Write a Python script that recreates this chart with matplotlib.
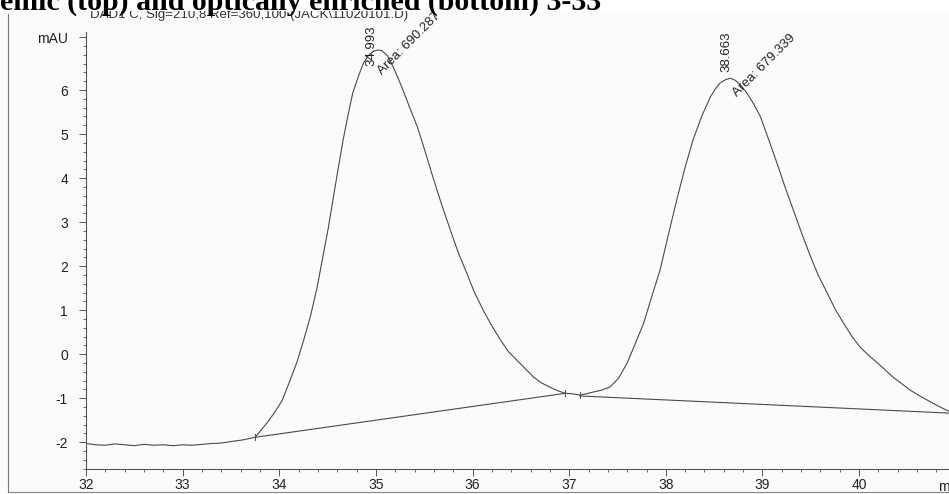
import matplotlib
matplotlib.use("Agg")
import matplotlib.pyplot as plt
from matplotlib.lines import Line2D
from matplotlib.patches import Rectangle
from matplotlib.ticker import MultipleLocator

# signal (min, mAU)
t = [32.00, 32.10, 32.20, 32.30, 32.40, 32.50, 32.60, 32.70, 32.80, 32.90,
     33.00, 33.10, 33.20, 33.30, 33.40, 33.52, 33.62, 33.75, 33.87, 33.95,
     34.03, 34.10, 34.18, 34.25, 34.32, 34.39, 34.45, 34.51, 34.56, 34.61,
     34.66, 34.71, 34.76, 34.82, 34.87, 34.92, 34.97, 35.02, 35.06, 35.12,
     35.18, 35.23, 35.28, 35.35, 35.43, 35.51, 35.59, 35.68, 35.77, 35.85,
     35.94, 36.02, 36.11, 36.20, 36.29, 36.37, 36.46, 36.55, 36.63, 36.71,
     36.80, 36.88, 36.96, 37.03, 37.11, 37.18, 37.25, 37.33, 37.42, 37.51,
     37.60, 37.68, 37.77, 37.85, 37.94, 38.03, 38.12, 38.20, 38.28, 38.37,
     38.46, 38.51, 38.56, 38.62, 38.67, 38.72, 38.78, 38.84, 38.91, 38.98,
     39.06, 39.15, 39.23, 39.32, 39.41, 39.50, 39.58, 39.67, 39.75, 39.84,
     39.92, 40.01, 40.10, 40.19, 40.27, 40.35, 40.44, 40.53, 40.62, 40.71,
     40.80, 40.93]
sig = [-2.03, -2.06, -2.07, -2.04, -2.06, -2.08, -2.05, -2.07, -2.06, -2.08,
       -2.06, -2.07, -2.05, -2.03, -2.02, -1.98, -1.95, -1.89, -1.57, -1.33,
       -1.05, -0.66, -0.20, 0.30, 0.84, 1.50, 2.20, 2.90, 3.57, 4.22,
       4.86, 5.42, 5.93, 6.32, 6.61, 6.78, 6.88, 6.91, 6.90, 6.78,
       6.52, 6.27, 6.00, 5.60, 5.16, 4.60, 4.02, 3.40, 2.82, 2.32,
       1.84, 1.40, 1.00, 0.64, 0.32, 0.06, -0.14, -0.34, -0.52, -0.65,
       -0.75, -0.83, -0.89, -0.90, -0.93, -0.90, -0.86, -0.82, -0.75, -0.55,
       -0.20, 0.22, 0.70, 1.28, 1.91, 2.75, 3.57, 4.25, 4.86, 5.40,
       5.84, 6.02, 6.16, 6.24, 6.27, 6.22, 6.10, 5.93, 5.68, 5.39,
       4.90, 4.34, 3.82, 3.27, 2.72, 2.20, 1.78, 1.39, 1.03, 0.70,
       0.42, 0.16, -0.03, -0.20, -0.36, -0.52, -0.67, -0.82, -0.94, -1.05,
       -1.16, -1.30]

# integration baselines
base1_t = [33.75, 36.96]
base1_y = [-1.89, -0.89]
base2_t = [37.11, 40.93]
base2_y = [-0.95, -1.34]

peak_rt = [34.993, 38.663]
peak_area = ["690.287", "679.339"]

ink = "#4a4a4a"
txt = "#222222"

fig = plt.figure(figsize=(9.49, 4.94), dpi=100)
fig.patch.set_facecolor("#fbfbfc")
ax = fig.add_axes([86 / 949, 25 / 494, 1 - 86 / 949, 437 / 494])
ax.set_facecolor("none")

ax.plot(t, sig, color=ink, lw=0.8)
ax.plot(base1_t, base1_y, color=ink, lw=0.8)
ax.plot(base2_t, base2_y, color=ink, lw=0.8)
# small peak-start/stop markers
for xx, yy in [(33.75, -1.89), (36.96, -0.89), (37.11, -0.93)]:
    ax.plot([xx, xx], [yy - 0.07, yy + 0.07], color=ink, lw=0.7)

# retention time labels sit just into the peak top, area labels at 45 deg
rt_label_y = [6.55, 6.4]
area_xy = [(35.08, 6.3), (38.76, 5.8)]
for rt, ly, (ax_, ay), area in zip(peak_rt, rt_label_y, area_xy, peak_area):
    ax.text(rt - 0.04, ly, "%.3f" % rt, rotation=90, ha="center", va="bottom",
            fontsize=9.5, family="Liberation Sans", color=txt)
    ax.text(ax_, ay, "Area: " + area, rotation=45, ha="left", va="bottom",
            fontsize=9.5, family="Liberation Sans", color=txt,
            rotation_mode="anchor")

ax.set_xlim(32, 40.93)
ax.set_ylim(-2.61, 7.32)
ax.spines["top"].set_visible(False)
ax.spines["right"].set_visible(False)
for s in ["left", "bottom"]:
    ax.spines[s].set_color("#555555")
    ax.spines[s].set_linewidth(0.8)

ax.set_xticks(range(32, 41))
ax.xaxis.set_minor_locator(MultipleLocator(0.2))
yt = list(range(-2, 7)) + [7.2]
ax.set_yticks(yt)
ax.set_yticklabels([str(v) for v in range(-2, 7)] + ["mAU"])
ax.yaxis.set_minor_locator(MultipleLocator(0.2))
ax.tick_params(which="major", length=5, width=0.7, color="#555555",
               labelsize=10, labelcolor=txt)
ax.tick_params(axis="y", which="major", pad=8)
ax.tick_params(axis="x", which="major", pad=1.5)
ax.tick_params(which="minor", length=2.5, width=0.6, color="#555555")
for lab in ax.get_xticklabels() + ax.get_yticklabels():
    lab.set_family("Liberation Sans")

fig.text(938 / 949, 1 - 487 / 494, "min", ha="left", va="center",
         fontsize=10, family="Liberation Sans", color=txt)

# scan frame lines
fig.add_artist(Line2D([8 / 949, 8 / 949], [0.005, 1 - 14 / 494],
                      transform=fig.transFigure, color="#777777", lw=0.8))
fig.add_artist(Line2D([8 / 949, 1], [2 / 494, 2 / 494],
                      transform=fig.transFigure, color="#888888", lw=0.8))

fig.text(90 / 949, 1 - 18 / 494, "DAD1 C, Sig=210,8 Ref=360,100 (JACK\\11020101.D)",
         ha="left", va="baseline", fontsize=9.5, family="Liberation Sans", color="#333333")
fig.add_artist(Rectangle((0, 1 - 11 / 494), 1, 11 / 494, transform=fig.transFigure,
                         facecolor="white", edgecolor="none", zorder=5))
fig.text(0, 1 - 10 / 494, "emic (top) and optically enriched (bottom) 3-33",
         ha="left", va="baseline", fontsize=21.5, weight="bold",
         family="Liberation Serif", color="black", zorder=6)

fig.savefig("out.png", dpi=100, facecolor=fig.get_facecolor())
